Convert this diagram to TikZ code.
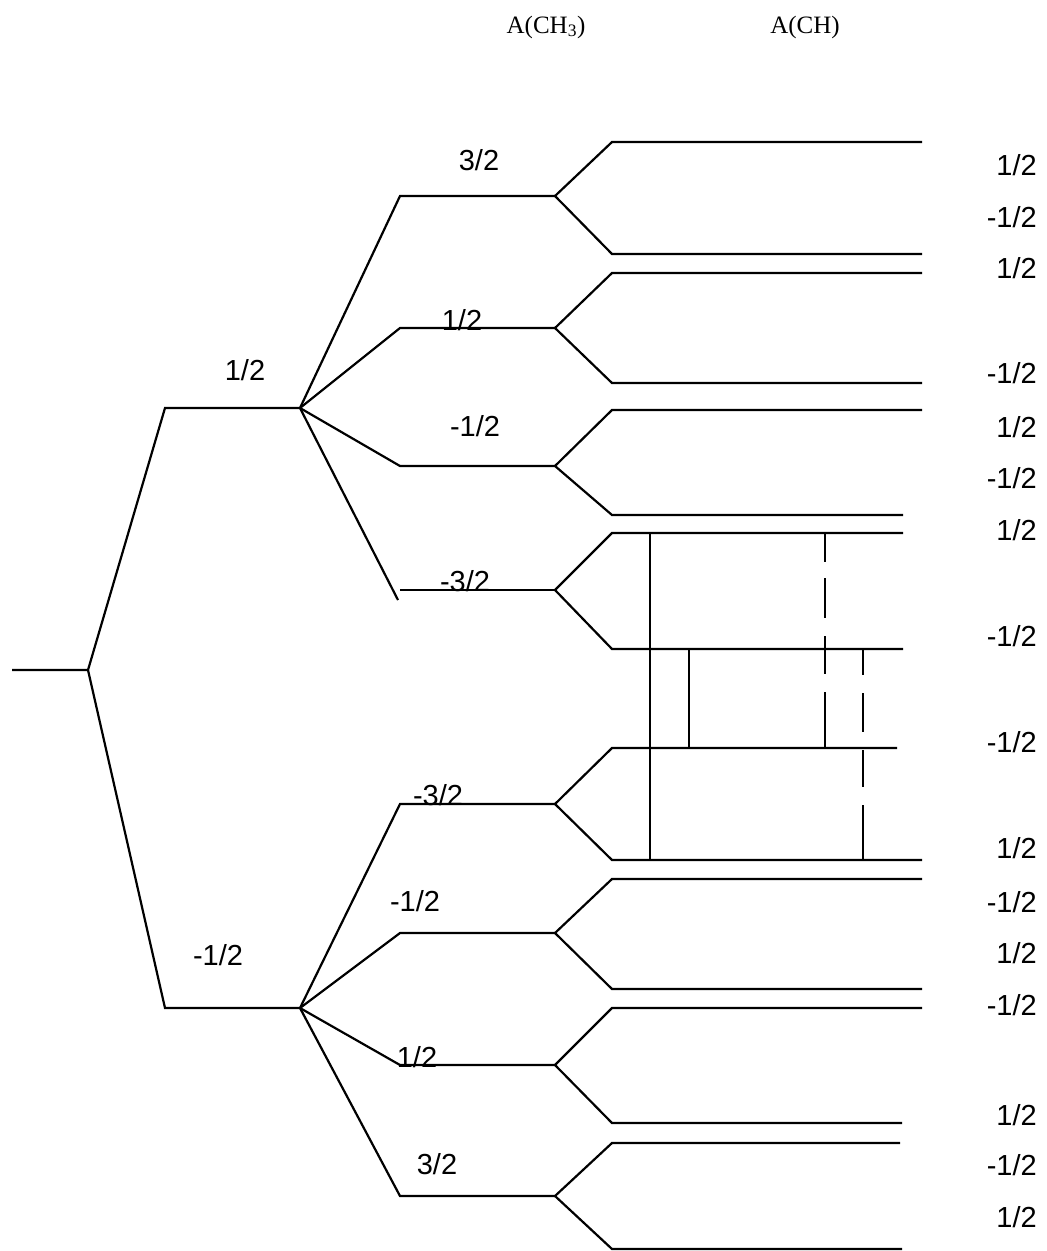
\documentclass[tikz,border=0pt]{standalone}
\usepackage{fontspec}
\setmainfont{Liberation Sans}
\newfontfamily\hdr{Liberation Serif}
\begin{document}
\begin{tikzpicture}[x=1pt,y=-1pt,
  lvl/.style={line width=2.2pt, line cap=butt, line join=miter},
  lab/.style={font=\fontsize{29}{30}\selectfont, inner sep=0pt},
  rlab/.style={lab, anchor=east},
  hd/.style={font=\hdr\fontsize{25}{27}\selectfont, inner sep=0pt}]
\useasboundingbox[fill=white] (0,0) rectangle (1047,1251);

% headers
\node[hd] (h1) at (546,27) {A(CH\textsubscript{3})};
\node[hd] (h2) at (805,27) {A(CH)};

% first level
\coordinate (s0) at (12,670);
\coordinate (r) at (88,670);
\coordinate (a1) at (165,408); \coordinate (b1) at (300,408);
\coordinate (a2) at (165,1008); \coordinate (b2) at (300,1008);
\draw[lvl] (s0) -- (r) -- (a1) -- (b1);
\draw[lvl] (r) -- (a2) -- (b2);
\node[lab] (l1) at (245,370) {1/2};
\node[lab] (l2) at (218,955) {-1/2};

% second level
\foreach \n/\y in {1/196,2/328,3/466,4/590,5/804,6/933,7/1065,8/1196}{
  \coordinate (c\n) at (400,\y);
  \coordinate (d\n) at (555,\y);
}
\coordinate (c4x) at (398,600);
\draw[lvl] (b1) -- (c1) -- (d1);
\draw[lvl] (b1) -- (c2) -- (d2);
\draw[lvl] (b1) -- (c3) -- (d3);
\draw[lvl] (b1) -- (c4x);
\draw[lvl] (c4) -- (d4);
\foreach \n in {5,6,7,8}{\draw[lvl] (b2) -- (c\n) -- (d\n);}
\node[lab] (m1) at (479,160) {3/2};
\node[lab] (m2) at (462,320) {1/2};
\node[lab] (m3) at (475,426) {-1/2};
\node[lab] (m4) at (465,581) {-3/2};
\node[lab] (m5) at (438,795) {-3/2};
\node[lab] (m6) at (415,901) {-1/2};
\node[lab] (m7) at (417,1057) {1/2};
\node[lab] (m8) at (437,1164) {3/2};

% third level
\foreach \n/\yu/\eu/\yd/\ed in {1/142/922/254/922, 2/273/922/383/922,
    3/410/922/515/903, 4/533/903/649/903, 5/748/897/860/922,
    6/879/922/989/922, 7/1008/922/1123/902, 8/1143/900/1249/902}{
  \coordinate (u\n) at (612,\yu); \coordinate (ue\n) at (\eu,\yu);
  \coordinate (v\n) at (612,\yd); \coordinate (ve\n) at (\ed,\yd);
  \draw[lvl] (ue\n) -- (u\n) -- (d\n) -- (v\n) -- (ve\n);
}

% connecting verticals
\coordinate (p1) at (650,533); \coordinate (q1) at (650,860);
\coordinate (p2) at (689,649); \coordinate (q2) at (689,748);
\coordinate (p3) at (825,533); \coordinate (q3) at (825,749);
\coordinate (p4) at (863,648); \coordinate (q4) at (863,860);
\draw[lvl] (p1) -- (q1);
\draw[lvl] (p2) -- (q2);
\draw[lvl, dash pattern={on 29pt off 16pt on 40pt off 18pt on 38pt off 18pt on 56pt off 10pt}] (p3) -- (q3);
\draw[lvl, dash pattern={on 27pt off 18pt on 39pt off 18pt on 37pt off 18pt on 55pt off 10pt}] (p4) -- (q4);

% right labels
\foreach \y/\t in {165/1, 217/-1, 268/1, 373/-1, 427/1, 478/-1,
   530/1, 636/-1, 742/-1, 848/1, 902/-1, 953/1, 1005/-1,
   1115/1, 1165/-1, 1217/1}{
  \node[rlab] (rl\y) at (1037,\y) {\t/2};
}
\end{tikzpicture}
\end{document}
